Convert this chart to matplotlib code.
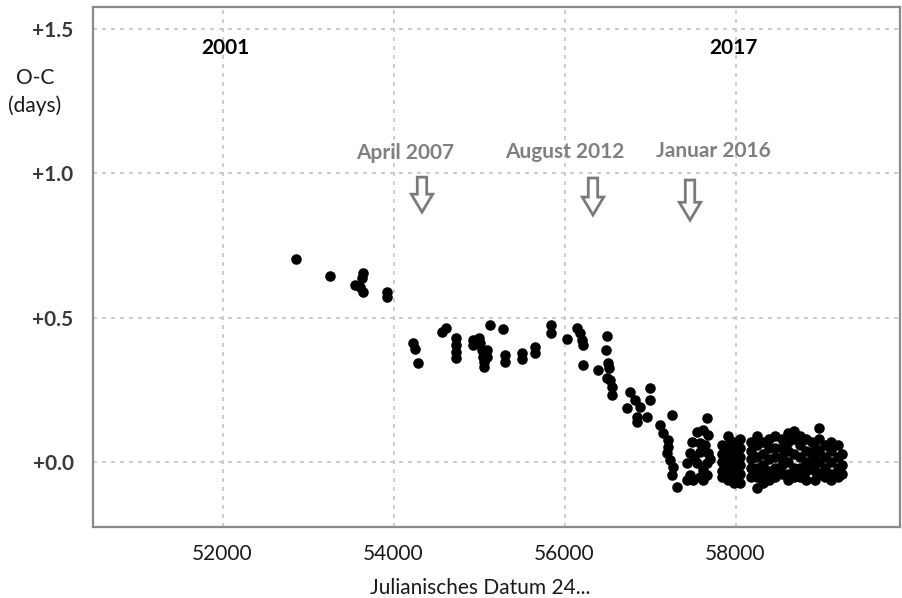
import numpy as np
import matplotlib.pyplot as plt
from matplotlib.patches import FancyArrow

plt.rcParams['font.family'] = ['Lato', 'DejaVu Sans']

# O-C values (JD - 2400000, days)
jd_early = [52860, 53258, 53647, 53628, 53550, 53608, 53640, 53921, 53928]
oc_early = [0.702, 0.645, 0.654, 0.637, 0.613, 0.608, 0.590, 0.590, 0.573]

jd_mid = [54232, 54252, 54291, 54565, 54611, 54731, 54731, 54731, 54731,
          54934, 54934, 55004, 55012, 55032, 55090, 55051, 55090, 55059,
          55059, 55129, 55285, 55305, 55305, 55500, 55500, 55655, 55655,
          55840, 55840, 56033, 56150, 56181, 56201, 56213, 56213]
oc_mid = [0.412, 0.391, 0.345, 0.452, 0.464, 0.429, 0.406, 0.383, 0.360,
          0.423, 0.406, 0.429, 0.412, 0.389, 0.389, 0.365, 0.365, 0.348,
          0.329, 0.475, 0.460, 0.371, 0.348, 0.377, 0.356, 0.400, 0.377,
          0.475, 0.446, 0.426, 0.464, 0.446, 0.423, 0.406, 0.337]

jd_drop = [56396, 56501, 56486, 56513, 56525, 56533, 56553, 56553, 56494,
           57000, 56766, 56825, 56728, 56883, 57000, 56845, 56962, 56845,
           57255, 57117, 57156, 57214, 57214, 57195, 57234, 57273, 57255,
           57312, 57663, 57546, 57624, 57682, 57488, 57585, 57644, 57468,
           57585, 57682, 57429, 57546, 57663, 57468, 57585, 57663, 57429,
           57507, 57624, 57700, 57520, 57620]
oc_drop = [0.319, 0.437, 0.389, 0.345, 0.325, 0.285, 0.259, 0.233, 0.291,
           0.256, 0.244, 0.216, 0.187, 0.192, 0.216, 0.158, 0.158, 0.140,
           0.164, 0.129, 0.100, 0.077, 0.054, 0.031, 0.008, -0.015, -0.044,
           -0.084, 0.152, 0.106, 0.112, 0.094, 0.071, 0.066, 0.060, 0.031,
           0.037, 0.031, -0.003, -0.003, -0.003, -0.044, -0.050, -0.044, -0.061,
           -0.061, -0.061, 0.010, 0.020, -0.025]

jd_late = [57840, 57840, 57840, 57840, 57840,
           57910, 57910, 57910, 57910, 57910, 57910,
           57980, 57980, 57980, 57980, 57980, 57980,
           58050, 58050, 58050, 58050, 58050, 58050,
           58180, 58180, 58180, 58180, 58180,
           58250, 58250, 58250, 58250, 58250, 58250,
           58320, 58320, 58320, 58320, 58320,
           58390, 58390, 58390, 58390, 58390,
           58460, 58460, 58460, 58460, 58460,
           58540, 58540, 58540, 58540, 58540,
           58610, 58610, 58610, 58610, 58610, 58610,
           58680, 58680, 58680, 58680, 58680,
           58750, 58750, 58750, 58750, 58750,
           58820, 58820, 58820, 58820, 58820,
           58890, 58890, 58890,
           58930, 58930, 58930, 58930,
           58980, 58980, 58980, 58980, 58980,
           59050, 59050, 59050, 59050,
           59120, 59120, 59120, 59120, 59120,
           59200, 59200, 59200, 59200,
           59240, 59240, 59240]
oc_late = [0.06, 0.03, 0.00, -0.03, -0.05,
           0.09, 0.06, 0.03, 0.00, -0.03, -0.06,
           0.07, 0.04, 0.01, -0.02, -0.05, -0.07,
           0.08, 0.05, 0.02, -0.01, -0.04, -0.07,
           0.07, 0.04, 0.01, -0.02, -0.05,
           0.09, 0.06, 0.02, -0.02, -0.05, -0.09,
           0.07, 0.03, -0.01, -0.04, -0.07,
           0.08, 0.05, 0.01, -0.03, -0.06,
           0.09, 0.05, 0.02, -0.02, -0.05,
           0.08, 0.05, 0.02, -0.01, -0.04,
           0.10, 0.07, 0.04, 0.00, -0.04, -0.06,
           0.11, 0.08, 0.03, -0.02, -0.05,
           0.09, 0.06, 0.02, -0.02, -0.05,
           0.08, 0.04, 0.00, -0.03, -0.06,
           0.07, 0.03, -0.01,
           0.05, 0.01, -0.03, -0.06,
           0.118, 0.08, 0.04, 0.00, -0.04,
           0.06, 0.02, -0.02, -0.05,
           0.07, 0.04, 0.00, -0.04, -0.06,
           0.06, 0.02, -0.02, -0.05,
           0.03, -0.01, -0.04]

x_ticks = [52000, 54000, 56000, 58000]
y_ticks = [0.0, 0.5, 1.0, 1.5]
y_ticklabels = ['+0.0', '+0.5', '+1.0', '+1.5']

events = ['April 2007', 'August 2012', 'Januar 2016']
event_text_x = [54135, 56006, 57737]
event_text_y = [1.070, 1.074, 1.077]
arrow_x = [54333, 56333, 57468]
arrow_top = [0.987, 0.984, 0.977]
arrow_tip = [0.866, 0.856, 0.838]

fig = plt.figure(figsize=(9.03, 5.98), dpi=100)
ax = fig.add_axes([93 / 903, 71 / 598, 807 / 903, 520 / 598])

jd = jd_early + jd_mid + jd_drop + jd_late
oc = oc_early + oc_mid + oc_drop + oc_late
ax.plot(jd, oc, 'o', color='black', ms=7.6, mec='black', mew=0)

ax.set_xlim(50485, 59924)
ax.set_ylim(-0.224, 1.576)
ax.set_xticks(x_ticks)
ax.set_yticks(y_ticks)
ax.set_yticklabels(y_ticklabels, fontweight='bold', color='#3a3a3a')
ax.tick_params(axis='x', length=0, pad=12, labelsize=15, labelcolor='#1a1a1a')
ax.tick_params(axis='y', length=0, pad=14, labelsize=15)
ax.grid(True, color='#c4c4c4', linestyle=(0, (2.4, 3.0)), lw=1.2)
for s in ax.spines.values():
    s.set_color('#8a8a8a')
    s.set_linewidth(1.6)

fig.text(35 / 903, 1 - 78 / 598, 'O-C', ha='center', va='center', fontsize=15, color='#1a1a1a')
fig.text(35 / 903, 1 - 106 / 598, '(days)', ha='center', va='center', fontsize=15, color='#1a1a1a')
fig.text(480 / 903, 1 - 588 / 598, 'Julianisches Datum 24...', ha='center', va='center',
         fontsize=15, color='#1a1a1a')

ax.text(52029, 1.433, '2001', ha='center', va='center', fontsize=15, fontweight='bold')
ax.text(57971, 1.433, '2017', ha='center', va='center', fontsize=15, fontweight='bold')

for i in range(len(events)):
    ax.text(event_text_x[i], event_text_y[i], events[i], ha='center', va='center',
            fontsize=15, fontweight='bold', color='#808080')
    ax.add_patch(FancyArrow(arrow_x[i], arrow_top[i], 0, arrow_tip[i] - arrow_top[i],
                            width=110, head_width=250, head_length=0.062,
                            length_includes_head=True, fc='white', ec='#7a7a7a', lw=2))

plt.savefig('out.png', dpi=100)
